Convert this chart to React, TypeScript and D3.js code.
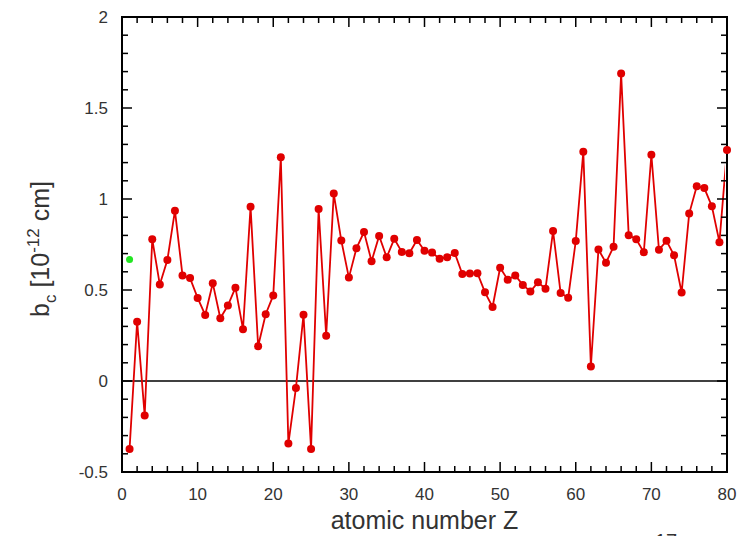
import React from "react";
import * as d3 from "d3";

const Z: number[] = d3.range(1, 81);
const bc: number[] = [
  -0.3739, 0.326, -0.19, 0.779, 0.53, 0.6646, 0.936, 0.5803, 0.5654, 0.4566,
  0.363, 0.5375, 0.3449, 0.4149, 0.513, 0.2847, 0.9577, 0.1909, 0.367, 0.47,
  1.229, -0.3438, -0.0382, 0.3635, -0.373, 0.945, 0.249, 1.03, 0.7718, 0.568,
  0.7288, 0.8185, 0.658, 0.797, 0.6795, 0.781, 0.709, 0.702, 0.775, 0.716,
  0.7054, 0.6715, 0.68, 0.703, 0.588, 0.591, 0.5922, 0.487, 0.4065, 0.6225,
  0.557, 0.58, 0.528, 0.492, 0.542, 0.507, 0.824, 0.484, 0.458, 0.769,
  1.26, 0.08, 0.722, 0.65, 0.738, 1.69, 0.801, 0.779, 0.707, 1.243,
  0.721, 0.77, 0.691, 0.486, 0.92, 1.07, 1.06, 0.96, 0.763, 1.2692,
];
const deuteriumZ = [1];
const deuteriumBc = [0.6671];

const xTicks = [0, 10, 20, 30, 40, 50, 60, 70, 80];
const yTicks = [-0.5, 0, 0.5, 1, 1.5, 2];

export default function App() {
  const W = 754, H = 536;
  const x = d3.scaleLinear().domain([0, 80]).range([122, 727]);
  const y = d3.scaleLinear().domain([-0.5, 2]).range([472, 17]);
  const x0 = x(0), x1 = x(80), yb = y(-0.5), yt = y(2);

  const line = d3.line<number>().x((_, i) => x(Z[i])).y((d) => y(d));

  const xMinor = d3.range(0, 81, 2);
  const yMinor = d3.range(-5, 21).map((v) => v / 10);
  const font = "Liberation Sans, Arial, sans-serif";
  const txt = "#333";

  return (
    <svg width={W} height={H} style={{ position: "absolute", left: 0, top: 0 }}>
      <defs>
        <clipPath id="plotclip">
          <rect x={x0} y={yt} width={x1 - x0 - 2} height={yb - yt} />
        </clipPath>
      </defs>
      <rect x={0} y={0} width={W} height={H} fill="#fff" />
      <line x1={x0} x2={x1} y1={y(0)} y2={y(0)} stroke="#000" strokeWidth={1.5} />
      <path d={line(bc) || ""} fill="none" stroke="#e00000" strokeWidth={1.8} clipPath="url(#plotclip)" />
      {xMinor.map((v) => {
        const major = v % 10 === 0;
        const len = major ? 10 : 6;
        return (
          <g key={"xt" + v}>
            <line x1={x(v)} x2={x(v)} y1={yb} y2={yb - len} stroke="#000" strokeWidth={1.5} />
            <line x1={x(v)} x2={x(v)} y1={yt} y2={yt + len} stroke="#000" strokeWidth={1.5} />
          </g>
        );
      })}
      {yMinor.map((v) => {
        const major = Math.abs(Math.round(v * 10) % 5) === 0;
        const len = major ? 10 : 6;
        return (
          <g key={"yt" + v}>
            <line x1={x0} x2={x0 + len} y1={y(v)} y2={y(v)} stroke="#000" strokeWidth={1.5} />
            <line x1={x1} x2={x1 - len} y1={y(v)} y2={y(v)} stroke="#000" strokeWidth={1.5} />
          </g>
        );
      })}
      <rect x={x0} y={yt} width={x1 - x0} height={yb - yt} fill="none" stroke="#000" strokeWidth={2} />
      {bc.map((v, i) => (
        <circle key={"m" + i} cx={x(Z[i])} cy={y(v)} r={4} fill="#e00000" />
      ))}
      {deuteriumBc.map((v, i) => (
        <circle key={"d" + i} cx={x(deuteriumZ[i])} cy={y(v)} r={3.5} fill="#22e622" />
      ))}
      {xTicks.map((v) => (
        <text key={"xl" + v} x={x(v)} y={500} textAnchor="middle" fontFamily={font} fontSize={17} fill={txt}>
          {v}
        </text>
      ))}
      {yTicks.map((v) => (
        <text key={"yl" + v} x={108} y={y(v) + 6} textAnchor="end" fontFamily={font} fontSize={17} fill={txt}>
          {v}
        </text>
      ))}
      <text x={(x0 + x1) / 2} y={529} textAnchor="middle" fontFamily={font} fontSize={25} fill={txt}>
        atomic number Z
      </text>
      <text transform={`translate(49, 249) rotate(-90)`} textAnchor="middle" fontFamily={font} fontSize={25} fill={txt}>
        b<tspan fontSize={17} dy={7}>c</tspan>
        <tspan dy={-7}> [10</tspan>
        <tspan fontSize={17} dy={-10}>-12</tspan>
        <tspan dy={10}> cm]</tspan>
      </text>
      <text x={655} y={548} fontFamily={font} fontSize={20} fill={txt}>
        17
      </text>
    </svg>
  );
}
